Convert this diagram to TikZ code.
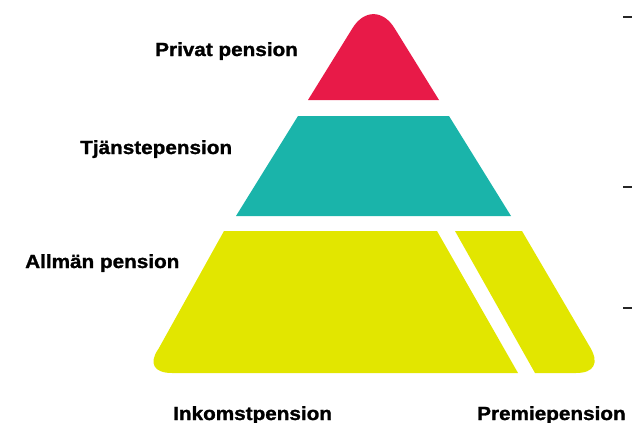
\documentclass[tikz,border=0pt]{standalone}
\usepackage{fontspec}
\setmainfont{Liberation Sans}
\newfontfamily\tierfont[FakeStretch=1.09,FakeBold=1.4]{Liberation Sans}
\usepackage{tikz}
\usetikzlibrary{positioning}
\definecolor{PrivatRed}{RGB}{232,26,72}
\definecolor{TjanstTeal}{RGB}{26,180,170}
\definecolor{AllmanYellow}{RGB}{226,230,0}

\begin{document}
\begin{tikzpicture}[x=1pt, y=-1pt]
    \tikzset{
        tierlabel/.style={anchor=base west, inner sep=0pt,
            font={\tierfont\bfseries\fontsize{19}{21}\selectfont}},
        sidetick/.style={line width=1.8pt, black!85}
    }
    \useasboundingbox (0,0) rectangle (632,423);
    % pyramid layers
    \fill[PrivatRed] (308,100) -- (352.6,28) .. controls (364.1,9.5) and (382.9,9.5) .. (394.4,28)
        -- (439,100) -- cycle;
    \fill[TjanstTeal] (298,116) -- (449,116) -- (511,216) -- (236,216) -- cycle;
    \fill[AllmanYellow] (224,231) -- (437,231) -- (518,373) -- (172,373)
        .. controls (153.5,373) and (148.5,363) .. (158.5,348.8) -- cycle;
    \fill[AllmanYellow] (455,231) -- (522,231) -- (590.5,348)
        .. controls (599.2,363) and (594.2,373) .. (576,373) -- (535,373) -- cycle;
    % ticks at the right edge
    \coordinate (tickAa) at (623,17);  \coordinate (tickAb) at (632,17);
    \coordinate (tickBa) at (623,187); \coordinate (tickBb) at (632,187);
    \coordinate (tickCa) at (623,308); \coordinate (tickCb) at (632,308);
    \draw[sidetick] (tickAa) -- (tickAb);
    \draw[sidetick] (tickBa) -- (tickBb);
    \draw[sidetick] (tickCa) -- (tickCb);
    \node[tierlabel] (privat) at (155,56) {Privat pension};
    \node[tierlabel] (tjanst) at (80,154) {Tjänstepension};
    \node[tierlabel] (allman) at (25,268) {Allmän pension};
    \node[tierlabel] (inkomst) at (173,420) {Inkomstpension};
    \node[tierlabel] (premie) at (477,420) {Premiepension};
\end{tikzpicture}
\end{document}
